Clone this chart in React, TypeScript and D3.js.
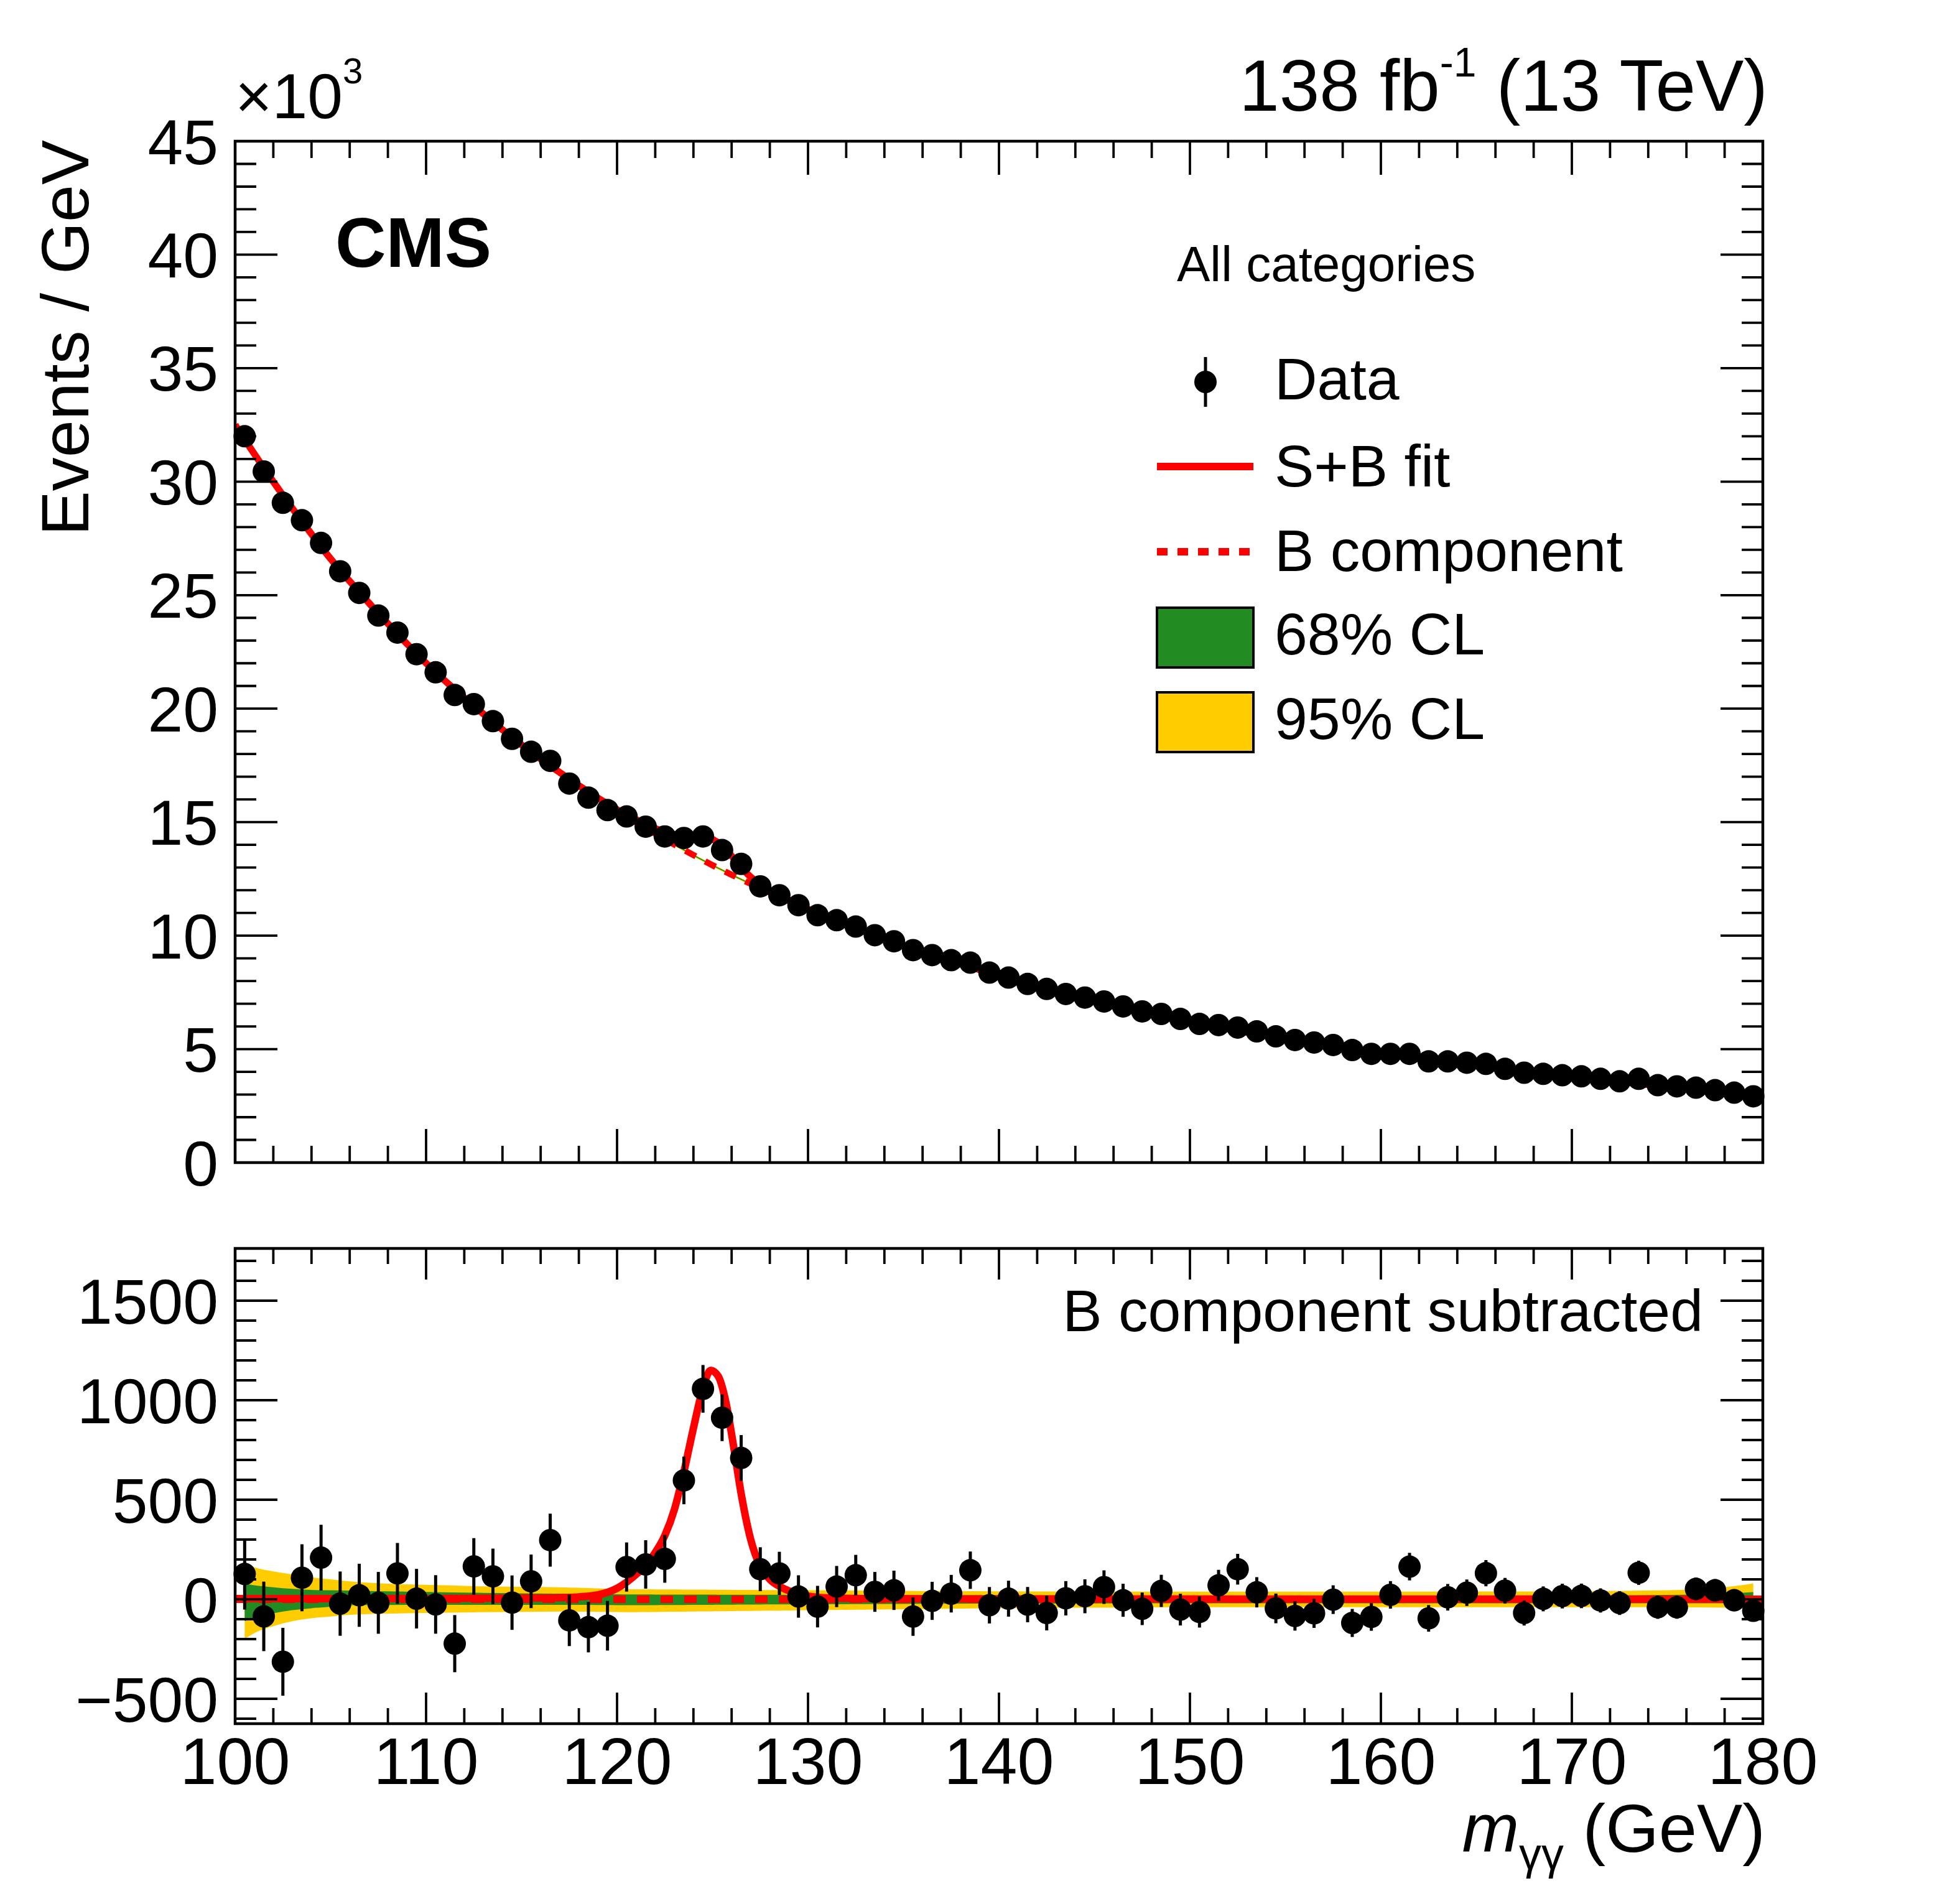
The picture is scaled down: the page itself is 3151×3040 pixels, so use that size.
import React from "react";
import * as d3 from "d3";

// ---------------- data ----------------
const massBins = [
  100.5, 101.5, 102.5, 103.5, 104.5, 105.5, 106.5, 107.5, 108.5, 109.5,
  110.5, 111.5, 112.5, 113.5, 114.5, 115.5, 116.5, 117.5, 118.5, 119.5,
  120.5, 121.5, 122.5, 123.5, 124.5, 125.5, 126.5, 127.5, 128.5, 129.5,
  130.5, 131.5, 132.5, 133.5, 134.5, 135.5, 136.5, 137.5, 138.5, 139.5,
  140.5, 141.5, 142.5, 143.5, 144.5, 145.5, 146.5, 147.5, 148.5, 149.5,
  150.5, 151.5, 152.5, 153.5, 154.5, 155.5, 156.5, 157.5, 158.5, 159.5,
  160.5, 161.5, 162.5, 163.5, 164.5, 165.5, 166.5, 167.5, 168.5, 169.5,
  170.5, 171.5, 172.5, 173.5, 174.5, 175.5, 176.5, 177.5, 178.5, 179.5,
];

// events / GeV in thousands
const eventsK = [
  32.0, 30.45, 29.07, 28.3, 27.3, 26.05, 25.1, 24.1, 23.35, 22.4,
  21.6, 20.6, 20.2, 19.45, 18.67, 18.1, 17.7, 16.7, 16.08, 15.53,
  15.25, 14.8, 14.37, 14.3, 14.37, 13.77, 13.16, 12.17, 11.78, 11.34,
  10.9, 10.68, 10.4, 10.02, 9.75, 9.36, 9.14, 8.92, 8.81, 8.37,
  8.15, 7.87, 7.65, 7.43, 7.27, 7.1, 6.88, 6.66, 6.55, 6.33,
  6.11, 6.06, 5.95, 5.78, 5.56, 5.4, 5.29, 5.18, 4.96, 4.79,
  4.79, 4.79, 4.46, 4.46, 4.4, 4.35, 4.13, 3.96, 3.91, 3.85,
  3.8, 3.69, 3.58, 3.69, 3.41, 3.36, 3.3, 3.19, 3.08, 2.92,
];

// data minus B component (events / GeV)
const residuals = [
  127, -86, -314, 108, 209, -22, 20, -18, 130, 3,
  -26, -223, 165, 115, -17, 90, 297, -106, -140, -133,
  162, 175, 203, 597, 1057, 912, 710, 151, 130, 14,
  -37, 64, 121, 37, 45, -87, -8, 28, 146, -30,
  3, -27, -69, 5, 15, 61, -5, -48, 42, -52,
  -64, 70, 151, 35, -46, -84, -71, -2, -119, -89,
  22, 164, -96, 10, 33, 131, 43, -69, 2, 16,
  17, -6, -19, 133, -40, -40, 52, 45, -5, -58,
];

// B component (thousands) at sampled masses
const bkgMass = [100, 105, 110, 115, 120, 125, 130, 135, 140, 145, 150, 155, 160, 165, 170, 175, 180];
const bkgK = [32.5, 26.6, 22.0, 18.4, 15.5, 13.1, 11.15, 9.55, 8.25, 7.15, 6.2, 5.45, 4.8, 4.25, 3.78, 3.35, 2.95];

// S+B fit minus B component (events / GeV)
const sigMass = [100, 110, 115, 117, 118, 119, 120, 121, 121.5, 122, 122.5, 123, 123.5, 124, 124.5, 124.9,
  125.3, 125.7, 126.1, 126.5, 127, 127.5, 128, 128.5, 129, 130, 131, 135, 180];
const sigEvents = [3, 4, 6, 8, 12, 22, 55, 125, 170, 235, 320, 450, 640, 860, 1060, 1150,
  1120, 990, 770, 530, 300, 165, 100, 65, 42, 16, 7, 2, 0];

// uncertainty bands on the B component (events / GeV, relative to B)
const bandMass = [100.5, 101, 102, 103, 104, 106, 109, 113, 117, 121, 130, 140, 150, 160, 170, 175, 178, 179.5];
const band95Up = [178, 160, 140, 125, 110, 90, 75, 65, 60, 50, 45, 40, 38, 38, 40, 45, 60, 80];
const band95Lo = [-200, -170, -135, -110, -95, -78, -70, -65, -62, -65, -55, -45, -40, -40, -40, -40, -42, -45];
const band68Up = [78, 70, 60, 52, 47, 44, 38, 32, 28, 24, 22, 20, 18, 18, 19, 22, 28, 36];
const band68Lo = [-110, -92, -70, -55, -45, -30, -28, -28, -28, -30, -25, -22, -20, -20, -20, -20, -20, -22];

const xTicks = [100, 110, 120, 130, 140, 150, 160, 170, 180];
const topYTicks = [0, 5, 10, 15, 20, 25, 30, 35, 40, 45];
const botYTicks = [-500, 0, 500, 1000, 1500];
const botYLabels = ["\u2212500", "0", "500", "1000", "1500"];

const legendTitle = "All categories";
const legendLabels = ["Data", "S+B fit", "B component", "68% CL", "95% CL"];

// ---------------- layout ----------------
const W = 3151;
const H = 3040;
const L = 378;
const R = 2834;
const TOP_T = 227;
const TOP_B = 1869;
const BOT_T = 2007;
const BOT_B = 2771;

const RED = "#ff0000";
const GREEN = "#228b22";
const YELLOW = "#ffcc00";
const FONT = "'Liberation Sans', Arial, Helvetica, sans-serif";

const xScale = d3.scaleLinear().domain([100, 180]).range([L, R]);
const yTop = d3.scaleLinear().domain([0, 45]).range([TOP_B, TOP_T]);
const yBot = d3.scaleLinear().domain([-625, 1762.5]).range([BOT_B, BOT_T]);

const logB = d3.scaleLinear().domain(bkgMass).range(bkgK.map(Math.log));
const bAt = (m: number) => Math.exp(logB(m));
const sAt = d3.scaleLinear().domain(sigMass).range(sigEvents).clamp(true);
const interp = (arr: number[]) => d3.scaleLinear().domain(bandMass).range(arr).clamp(true);
const b95u = interp(band95Up);
const b95l = interp(band95Lo);
const b68u = interp(band68Up);
const b68l = interp(band68Lo);

const unionMass = Array.from(new Set([...bkgMass, ...sigMass, ...bandMass])).sort((a, b) => a - b);
const bandUnion = unionMass.filter((m) => m >= bandMass[0] && m <= bandMass[bandMass.length - 1]);

function Ticks({ y, yMajor, yMinor, xMajLen, xMinLen, yMajLen, yMinLen, top, bottom }: any) {
  const xMinor = d3.range(100, 180.001, 2);
  const els: any[] = [];
  xMinor.forEach((v: number) => {
    const major = xTicks.includes(v);
    const len = major ? xMajLen : xMinLen;
    const x = xScale(v);
    els.push(<line key={"xb" + v} x1={x} x2={x} y1={bottom} y2={bottom - len} />);
    els.push(<line key={"xt" + v} x1={x} x2={x} y1={top} y2={top + len} />);
  });
  yMinor.forEach((v: number) => {
    const major = yMajor.includes(v);
    const len = major ? yMajLen : yMinLen;
    const yy = y(v);
    if (yy < top - 0.5 || yy > bottom + 0.5) return;
    els.push(<line key={"yl" + v} x1={L} x2={L + len} y1={yy} y2={yy} />);
    els.push(<line key={"yr" + v} x1={R} x2={R - len} y1={yy} y2={yy} />);
  });
  return (
    <g stroke="#000" strokeWidth={3.8}>
      {els}
    </g>
  );
}

export default function App() {
  // top panel curves
  const bPath = d3
    .line<number>()
    .x((m) => xScale(m))
    .y((m) => yTop(bAt(m)))
    .curve(d3.curveMonotoneX)(unionMass) || "";
  const sbPath = d3
    .line<number>()
    .x((m) => xScale(m))
    .y((m) => yTop(bAt(m) + sAt(m) / 1000))
    .curve(d3.curveMonotoneX)(unionMass) || "";
  const areaTop = (up: any, lo: any) =>
    d3
      .area<number>()
      .x((m) => xScale(m))
      .y0((m) => yTop(bAt(m) + lo(m) / 1000))
      .y1((m) => yTop(bAt(m) + up(m) / 1000))
      .curve(d3.curveMonotoneX)(bandUnion) || "";

  // bottom panel curves
  const areaBot = (up: any, lo: any) =>
    d3
      .area<number>()
      .x((m) => xScale(m))
      .y0((m) => yBot(lo(m)))
      .y1((m) => yBot(up(m)))
      .curve(d3.curveMonotoneX)(bandUnion) || "";
  const sigPath = d3
    .line<number>()
    .x((_, i) => xScale(sigMass[i]))
    .y((v) => yBot(v))
    .curve(d3.curveMonotoneX)(sigEvents) || "";

  const R_DOT = 18;

  return (
    <svg
      width={W}
      height={H}
      viewBox={`0 0 ${W} ${H}`}
      style={{ position: "absolute", left: 0, top: 0, background: "#fff" }}
      fontFamily={FONT}
    >
      <rect x={0} y={0} width={W} height={H} fill="#fff" />
      <defs>
        <clipPath id="clipTop">
          <rect x={L} y={TOP_T} width={R - L} height={TOP_B - TOP_T} />
        </clipPath>
        <clipPath id="clipBot">
          <rect x={L} y={BOT_T} width={R - L} height={BOT_B - BOT_T} />
        </clipPath>
      </defs>

      {/* ---------- top panel ---------- */}
      <g clipPath="url(#clipTop)">
        <path d={areaTop(b95u, b95l)} fill={YELLOW} />
        <path d={areaTop(b68u, b68l)} fill={GREEN} />
        <path d={bPath} fill="none" stroke={RED} strokeWidth={10} strokeDasharray="19 17" />
        <path d={sbPath} fill="none" stroke={RED} strokeWidth={11} />
      </g>
      <g>
        {massBins.map((m, i) => {
          const v = eventsK[i];
          const e = Math.sqrt(v * 1000) / 1000;
          return (
            <g key={"dt" + i}>
              <line x1={xScale(m)} x2={xScale(m)} y1={yTop(v - e)} y2={yTop(v + e)} stroke="#000" strokeWidth={5} />
              <circle cx={xScale(m)} cy={yTop(v)} r={R_DOT} fill="#000" />
            </g>
          );
        })}
      </g>
      <Ticks
        y={yTop}
        yMajor={topYTicks}
        yMinor={d3.range(0, 45.001, 1)}
        xMajLen={54}
        xMinLen={27}
        yMajLen={68}
        yMinLen={34}
        top={TOP_T}
        bottom={TOP_B}
      />
      <rect x={L} y={TOP_T} width={R - L} height={TOP_B - TOP_T} fill="none" stroke="#000" strokeWidth={4.5} />
      <g fontSize={102} textAnchor="end" fill="#000">
        {topYTicks.map((t) => (
          <text key={"tyl" + t} x={351} y={yTop(t) + 36.5}>
            {t}
          </text>
        ))}
      </g>
      <text x={L} y={190} fontSize={102} fill="#000">
        <tspan>×10</tspan>
        <tspan fontSize={58} dy={-56}>3</tspan>
      </text>
      <text x={142} y={225} fontSize={108} textAnchor="end" transform="rotate(-90 142 225)" fill="#000">
        Events / GeV
      </text>
      <text x={539} y={429} fontSize={113} fontWeight="bold" fill="#000">
        CMS
      </text>
      <text x={2842} y={178} fontSize={116} textAnchor="end" fill="#000">
        <tspan>138 fb</tspan>
        <tspan fontSize={66} dy={-55}>-1</tspan>
        <tspan dy={55}> (13 TeV)</tspan>
      </text>

      {/* legend */}
      <g fill="#000">
        <text x={1892} y={452} fontSize={80}>
          {legendTitle}
        </text>
        <line x1={1938} x2={1938} y1={574} y2={654} stroke="#000" strokeWidth={5} />
        <circle cx={1938} cy={614} r={R_DOT} fill="#000" />
        <text x={2049} y={642} fontSize={95}>
          {legendLabels[0]}
        </text>
        <line x1={1860} x2={2015} y1={750} y2={750} stroke={RED} strokeWidth={12} />
        <text x={2049} y={782} fontSize={95}>
          {legendLabels[1]}
        </text>
        <line x1={1860} x2={2015} y1={887} y2={887} stroke={RED} strokeWidth={12} strokeDasharray="17 16" />
        <text x={2049} y={918} fontSize={95}>
          {legendLabels[2]}
        </text>
        <rect x={1860} y={977} width={155} height={96} fill={GREEN} stroke="#000" strokeWidth={4} />
        <text x={2049} y={1052} fontSize={95}>
          {legendLabels[3]}
        </text>
        <rect x={1860} y={1113} width={155} height={96} fill={YELLOW} stroke="#000" strokeWidth={4} />
        <text x={2049} y={1188} fontSize={95}>
          {legendLabels[4]}
        </text>
      </g>

      {/* ---------- bottom panel ---------- */}
      <g clipPath="url(#clipBot)">
        <path d={areaBot(b95u, b95l)} fill={YELLOW} />
        <path d={areaBot(b68u, b68l)} fill={GREEN} />
        <line x1={xScale(100)} x2={xScale(180)} y1={yBot(0)} y2={yBot(0)} stroke={RED} strokeWidth={12} strokeDasharray="20 18" />
        <path d={sigPath} fill="none" stroke={RED} strokeWidth={12} />
      </g>
      <g>
        {massBins.map((m, i) => {
          const v = residuals[i];
          const e = Math.sqrt(eventsK[i] * 1000);
          return (
            <g key={"db" + i}>
              <line x1={xScale(m)} x2={xScale(m)} y1={yBot(v - e)} y2={yBot(v + e)} stroke="#000" strokeWidth={5} />
              <circle cx={xScale(m)} cy={yBot(v)} r={R_DOT} fill="#000" />
            </g>
          );
        })}
      </g>
      <Ticks
        y={yBot}
        yMajor={botYTicks}
        yMinor={d3.range(-600, 1700.001, 100)}
        xMajLen={50}
        xMinLen={25}
        yMajLen={68}
        yMinLen={34}
        top={BOT_T}
        bottom={BOT_B}
      />
      <rect x={L} y={BOT_T} width={R - L} height={BOT_B - BOT_T} fill="none" stroke="#000" strokeWidth={4.5} />
      <g fontSize={102} textAnchor="end" fill="#000">
        {botYTicks.map((t, i) => (
          <text key={"byl" + t} x={351} y={yBot(t) + 36.5}>
            {botYLabels[i]}
          </text>
        ))}
      </g>
      <g fontSize={106} textAnchor="middle" fill="#000">
        {xTicks.map((t) => (
          <text key={"xl" + t} x={xScale(t)} y={2868}>
            {t}
          </text>
        ))}
      </g>
      <text x={2738} y={2140} fontSize={95} textAnchor="end" fill="#000">
        B component subtracted
      </text>
      <text x={2838} y={2977} fontSize={110} textAnchor="end" fill="#000">
        <tspan fontStyle="italic">m</tspan>
        <tspan fontSize={72} dy={28}>γγ</tspan>
        <tspan dy={-28}> (GeV)</tspan>
      </text>
    </svg>
  );
}
